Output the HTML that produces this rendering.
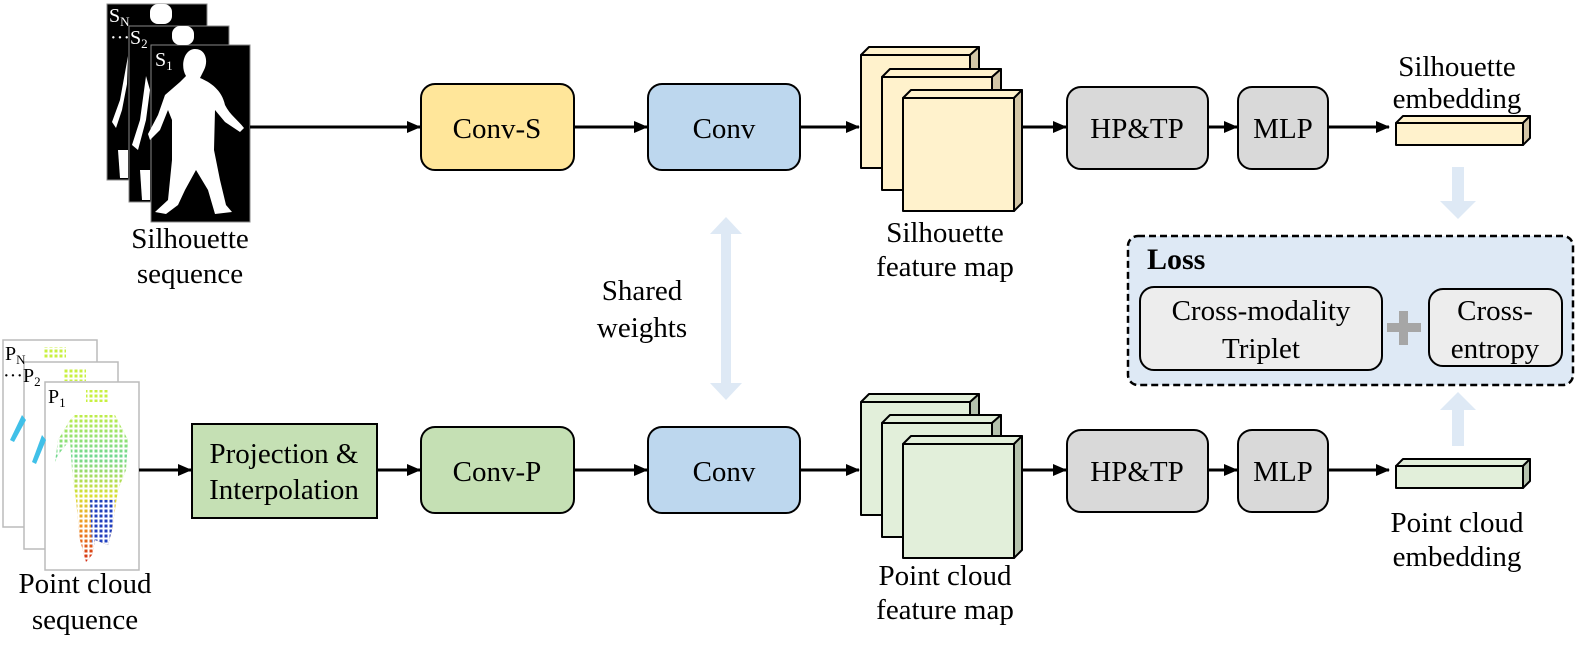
<!DOCTYPE html>
<html><head><meta charset="utf-8"><style>
body{margin:0;background:#fff}
svg text{font-family:"Liberation Serif",serif;font-size:29px;fill:#000}
</style></head><body>
<svg width="1578" height="648" viewBox="0 0 1578 648" xmlns="http://www.w3.org/2000/svg">
<defs>
<marker id="ah" markerWidth="14" markerHeight="12" refX="13" refY="6" orient="auto" markerUnits="userSpaceOnUse"><path d="M0,0 L14,6 L0,12 Z" fill="#000"/></marker>
<linearGradient id="pc" x1="0" y1="0" x2="0" y2="1">
<stop offset="0" stop-color="#c8f040"/><stop offset="0.3" stop-color="#70d890"/><stop offset="0.55" stop-color="#d8e030"/><stop offset="0.75" stop-color="#f09020"/><stop offset="1" stop-color="#d02010"/></linearGradient>
<pattern id="grid" width="5" height="5" patternUnits="userSpaceOnUse"><path d="M3.5 0 V5 M0 3.5 H5" stroke="#fff" stroke-width="2"/></pattern>
<clipPath id="body"><path d="M75 415 L115 415 L128 440 L126 470 L118 490 L112 530 L108 545 L95 540 L92 555 L86 562 L80 540 L76 500 L72 470 L70 440 L58 455 L55 462 L58 440 L70 420 Z"/></clipPath>
</defs>

<!-- Silhouette stack -->
<g stroke="#888" stroke-width="1">
<rect x="107" y="4" width="100" height="176" fill="#000"/>
<rect x="129" y="26" width="100" height="176" fill="#000"/>
<rect x="151" y="45" width="99" height="177" fill="#000"/>
</g>
<g fill="#fff">
<rect x="150" y="4" width="22" height="20" rx="8"/>
<path d="M128 56 L120 100 L112 122 L116 128 L122 110 L127 84 Z"/>
<path d="M118 150 L120 178 L128 178 L128 150 Z"/>
<rect x="172" y="26" width="22" height="19" rx="8"/>
<path d="M146 76 L140 120 L132 145 L138 150 L146 120 L150 90 Z"/>
<path d="M140 170 L142 200 L150 200 L150 170 Z"/>
<path d="M194 49 C205 48 209 60 204 70 L200 78 C210 82 222 90 225 105 C230 115 238 120 244 128 L240 132 L225 122 L215 110 L214 150 L220 180 L226 205 L232 212 L215 214 L208 190 L196 170 L185 190 L178 205 L166 214 L155 212 L168 200 L172 160 L172 120 L168 110 L160 130 L150 140 L148 134 L158 115 L165 95 L180 82 L186 76 C180 66 184 50 194 49 Z"/>
</g>
<text x="109" y="22" style="fill:#fff;font-size:20px">S<tspan font-size="13" dy="4">N</tspan></text>
<text x="110" y="44" style="fill:#fff;font-size:20px">···S<tspan font-size="13" dy="4">2</tspan></text>
<text x="155" y="66" style="fill:#fff;font-size:20px">S<tspan font-size="13" dy="4">1</tspan></text>
<text x="190" y="248" text-anchor="middle">Silhouette</text>
<text x="190" y="283" text-anchor="middle">sequence</text>

<!-- Point cloud stack -->
<g stroke="#bbb" stroke-width="1.5" fill="#fff">
<rect x="3" y="340" width="94" height="187"/>
<rect x="24" y="362" width="94" height="187"/>
<rect x="45" y="382" width="94" height="188"/>
</g>
<rect x="44" y="347" width="22" height="12" fill="#c8f040"/><rect x="44" y="347" width="22" height="12" fill="url(#grid)"/>
<path d="M22 415 L10 440 L14 442 L26 420 Z" fill="#40c0e8"/>
<rect x="64" y="369" width="22" height="12" fill="#c8f040"/><rect x="64" y="369" width="22" height="12" fill="url(#grid)"/>
<path d="M42 435 L32 462 L36 464 L46 440 Z" fill="#40c0e8"/>
<rect x="86" y="390" width="22" height="12" fill="#c8f040"/><rect x="86" y="390" width="22" height="12" fill="url(#grid)"/>
<g clip-path="url(#body)">
<rect x="50" y="410" width="85" height="155" fill="url(#pc)"/>
<path d="M90 500 L115 500 L110 550 L92 545 Z" fill="#2040c0"/>
<rect x="50" y="410" width="85" height="155" fill="url(#grid)"/>
</g>
<text x="5" y="360" style="font-size:20px">P<tspan font-size="13" dy="4">N</tspan></text>
<text x="3" y="382" style="font-size:20px">···P<tspan font-size="13" dy="4">2</tspan></text>
<text x="48" y="403" style="font-size:20px">P<tspan font-size="13" dy="4">1</tspan></text>
<text x="85" y="593" text-anchor="middle">Point cloud</text>
<text x="85" y="629" text-anchor="middle">sequence</text>

<!-- arrows -->
<g stroke="#000" stroke-width="3" marker-end="url(#ah)">
<line x1="250" y1="127" x2="420" y2="127"/>
<line x1="574" y1="127" x2="647" y2="127"/>
<line x1="800" y1="127" x2="859" y2="127"/>
<line x1="1022" y1="127" x2="1066" y2="127"/>
<line x1="1208" y1="127" x2="1237" y2="127"/>
<line x1="1328" y1="127" x2="1389" y2="127"/>
<line x1="139" y1="470" x2="191" y2="470"/>
<line x1="377" y1="470" x2="420" y2="470"/>
<line x1="574" y1="470" x2="647" y2="470"/>
<line x1="800" y1="470" x2="859" y2="470"/>
<line x1="1022" y1="470" x2="1066" y2="470"/>
<line x1="1208" y1="470" x2="1237" y2="470"/>
<line x1="1328" y1="470" x2="1389" y2="470"/>
</g>

<!-- boxes -->
<g stroke="#000" stroke-width="2">
<rect x="421" y="84" width="153" height="86" rx="14" fill="#ffe69a"/>
<rect x="648" y="84" width="152" height="86" rx="14" fill="#bdd7ee"/>
<rect x="1067" y="87" width="141" height="82" rx="14" fill="#d9d9d9"/>
<rect x="1238" y="87" width="90" height="82" rx="14" fill="#d9d9d9"/>
<rect x="192" y="424" width="185" height="94" fill="#c5e0b4"/>
<rect x="421" y="427" width="153" height="86" rx="14" fill="#c5e0b4"/>
<rect x="648" y="427" width="152" height="86" rx="14" fill="#bdd7ee"/>
<rect x="1067" y="430" width="141" height="82" rx="14" fill="#d9d9d9"/>
<rect x="1238" y="430" width="90" height="82" rx="14" fill="#d9d9d9"/>
</g>
<text x="497" y="138" text-anchor="middle">Conv-S</text>
<text x="724" y="138" text-anchor="middle">Conv</text>
<text x="1137" y="138" text-anchor="middle">HP&amp;TP</text>
<text x="1283" y="138" text-anchor="middle">MLP</text>
<text x="284" y="463" text-anchor="middle">Projection &amp;</text>
<text x="284" y="499" text-anchor="middle">Interpolation</text>
<text x="497" y="481" text-anchor="middle">Conv-P</text>
<text x="724" y="481" text-anchor="middle">Conv</text>
<text x="1137" y="481" text-anchor="middle">HP&amp;TP</text>
<text x="1283" y="481" text-anchor="middle">MLP</text>

<g stroke="#000" stroke-width="2" stroke-linejoin="round">
<g><path d="M861 55 L869 47 L979 47 L970 55 Z" fill="#fff2cc"/><path d="M970 55 L979 47 L979 160 L970 168 Z" fill="#d3c6a6"/><rect x="861" y="55" width="109" height="113" fill="#fff2cc"/></g>
<g><path d="M882 77 L890 69 L1001 69 L992 77 Z" fill="#fff2cc"/><path d="M992 77 L1001 69 L1001 182 L992 190 Z" fill="#d3c6a6"/><rect x="882" y="77" width="110" height="113" fill="#fff2cc"/></g>
<g><path d="M903 98 L911 90 L1022 90 L1014 98 Z" fill="#fff2cc"/><path d="M1014 98 L1022 90 L1022 203 L1014 211 Z" fill="#d3c6a6"/><rect x="903" y="98" width="111" height="113" fill="#fff2cc"/></g>
<g><path d="M861 402 L869 394 L979 394 L970 402 Z" fill="#e2efda"/><path d="M970 402 L979 394 L979 507 L970 515 Z" fill="#b5c2ad"/><rect x="861" y="402" width="109" height="113" fill="#e2efda"/></g>
<g><path d="M882 423 L890 415 L1001 415 L992 423 Z" fill="#e2efda"/><path d="M992 423 L1001 415 L1001 529 L992 537 Z" fill="#b5c2ad"/><rect x="882" y="423" width="110" height="114" fill="#e2efda"/></g>
<g><path d="M903 444 L911 436 L1022 436 L1014 444 Z" fill="#e2efda"/><path d="M1014 444 L1022 436 L1022 550 L1014 558 Z" fill="#b5c2ad"/><rect x="903" y="444" width="111" height="114" fill="#e2efda"/></g>
<g><path d="M1396 123 L1403 116 L1530 116 L1523 123 Z" fill="#fff2cc"/><path d="M1523 123 L1530 116 L1530 138 L1523 145 Z" fill="#d3c6a6"/><rect x="1396" y="123" width="127" height="22" fill="#fff2cc"/></g>
<g><path d="M1396 466 L1403 459 L1530 459 L1523 466 Z" fill="#e2efda"/><path d="M1523 466 L1530 459 L1530 481 L1523 488 Z" fill="#b5c2ad"/><rect x="1396" y="466" width="127" height="22" fill="#e2efda"/></g>
</g>
<text x="945" y="242" text-anchor="middle">Silhouette</text>
<text x="945" y="276" text-anchor="middle">feature map</text>
<text x="945" y="585" text-anchor="middle">Point cloud</text>
<text x="945" y="619" text-anchor="middle">feature map</text>
<text x="1457" y="76" text-anchor="middle">Silhouette</text>
<text x="1457" y="108" text-anchor="middle">embedding</text>
<text x="1457" y="532" text-anchor="middle">Point cloud</text>
<text x="1457" y="566" text-anchor="middle">embedding</text>

<path d="M726 217 L742 234 L731 234 L731 383 L742 383 L726 400 L710 383 L721 383 L721 234 L710 234 Z" fill="#dee9f5"/>
<text x="642" y="300" text-anchor="middle">Shared</text>
<text x="642" y="337" text-anchor="middle">weights</text>

<path d="M1452 167 L1464 167 L1464 201 L1476 201 L1458 219 L1440 201 L1452 201 Z" fill="#dee9f5"/>
<path d="M1458 392 L1476 410 L1464 410 L1464 446 L1452 446 L1452 410 L1440 410 Z" fill="#dee9f5"/>

<rect x="1128" y="236" width="445" height="149" rx="10" fill="#dee9f5" stroke="#000" stroke-width="2.5" stroke-dasharray="7,4"/>
<text x="1147" y="269" style="font-weight:bold;font-size:30px">Loss</text>
<rect x="1140" y="287" width="242" height="83" rx="14" fill="#ededed" stroke="#000" stroke-width="2"/>
<rect x="1429" y="289" width="133" height="77" rx="14" fill="#ededed" stroke="#000" stroke-width="2"/>
<text x="1261" y="320" text-anchor="middle">Cross-modality</text>
<text x="1261" y="358" text-anchor="middle">Triplet</text>
<text x="1495" y="320" text-anchor="middle">Cross-</text>
<text x="1495" y="358" text-anchor="middle">entropy</text>
<path d="M1399 311 L1408 311 L1408 323 L1421 323 L1421 332 L1408 332 L1408 345 L1399 345 L1399 332 L1387 332 L1387 323 L1399 323 Z" fill="#a6a6a6"/>
</svg>
</body></html>
